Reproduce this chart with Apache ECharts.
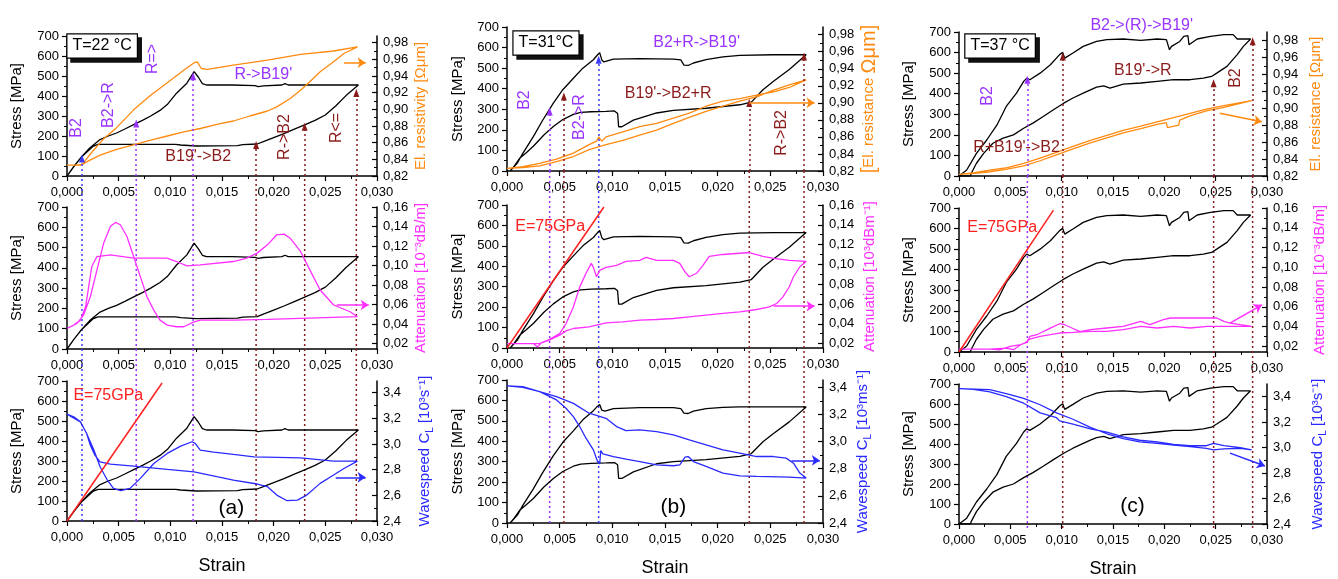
<!DOCTYPE html>
<html><head><meta charset="utf-8">
<script src="https://cdn.jsdelivr.net/npm/echarts@6/dist/echarts.min.js"></script>
<style>html,body{margin:0;padding:0;background:#fff}#c{width:1338px;height:579px}</style>
</head><body><div id="c"></div>
<script>
// ---------------- DATA ----------------
// Column (a) T=22 °C
const stressLoadA = [[0,0],[0.0007,50],[0.0014,95],[0.0022,140],[0.0032,182],[0.004,200],[0.0048,215],[0.0056,235],[0.0065,258],[0.0073,278],[0.0081,300],[0.009,328],[0.0097,357],[0.0106,414],[0.0116,464],[0.0123,522],[0.0127,495],[0.0131,462],[0.0135,455],[0.016,455],[0.0182,452],[0.0185,447],[0.019,451],[0.0208,455],[0.0211,462],[0.0214,455],[0.0282,455]];
const stressUnloadA = [[0.0282,455],[0.027,402],[0.026,350],[0.025,305],[0.024,278],[0.023,256],[0.022,234],[0.021,212],[0.020,192],[0.019,172],[0.0184,160],[0.017,157],[0.0165,152],[0.0125,150],[0.011,155],[0.0105,158],[0.003,158],[0.0025,148],[0.0014,95],[0.0007,50],[0,0]];
const resLoadA = [[0,0.833],[0.0013,0.833],[0.0016,0.836],[0.0025,0.850],[0.0035,0.864],[0.0048,0.878],[0.0065,0.900],[0.0081,0.917],[0.0097,0.932],[0.0113,0.947],[0.0123,0.956],[0.0126,0.957],[0.013,0.949],[0.0136,0.948],[0.0161,0.953],[0.0194,0.959],[0.0226,0.966],[0.0258,0.970],[0.0281,0.975]];
const resUnloadA = [[0.0281,0.975],[0.0268,0.967],[0.0258,0.957],[0.0245,0.945],[0.0235,0.933],[0.0226,0.923],[0.0216,0.913],[0.0203,0.903],[0.0194,0.898],[0.0177,0.892],[0.0161,0.886],[0.0145,0.882],[0.0129,0.877],[0.0113,0.873],[0.0097,0.868],[0.0081,0.863],[0.0066,0.858],[0.0048,0.852],[0.0032,0.845],[0.0019,0.837],[0.0015,0.834],[0.0008,0.833],[0,0.833]];
const attLoadA = [[0,0.0354],[0.00097,0.0406],[0.0016,0.0492],[0.00226,0.068],[0.0029,0.0955],[0.00355,0.123],[0.0042,0.140],[0.00468,0.1442],[0.00516,0.1418],[0.0058,0.1298],[0.00645,0.1092],[0.0071,0.0886],[0.00774,0.068],[0.0084,0.0543],[0.009,0.044],[0.0097,0.0389],[0.0106,0.0372],[0.0113,0.0372],[0.0123,0.0423],[0.0129,0.044],[0.0161,0.044],[0.0194,0.0447],[0.0281,0.0475]];
const attUnloadA = [[0.0281,0.0492],[0.0274,0.0526],[0.0258,0.0595],[0.0245,0.0749],[0.0235,0.0955],[0.0226,0.1144],[0.0216,0.128],[0.021,0.1322],[0.0203,0.1315],[0.0194,0.1212],[0.0184,0.1127],[0.0174,0.1075],[0.0161,0.1041],[0.0129,0.1006],[0.0116,0.0996],[0.0106,0.1041],[0.0097,0.1075],[0.00645,0.1075],[0.0042,0.111],[0.0029,0.1092],[0.0024,0.099],[0.0021,0.0783],[0.0018,0.0577],[0.0013,0.044],[0.00065,0.0389],[0,0.0354]];
const waveLoadA = [[0,3.232],[0.00065,3.211],[0.0013,3.172],[0.0019,3.081],[0.0026,2.952],[0.0032,2.822],[0.0039,2.719],[0.0045,2.654],[0.0052,2.636],[0.0061,2.654],[0.0071,2.732],[0.0084,2.848],[0.0097,2.926],[0.011,2.983],[0.0121,3.017],[0.0124,3.004],[0.0129,2.952],[0.0142,2.936],[0.0161,2.918],[0.0181,2.9],[0.0226,2.892],[0.0258,2.866],[0.0281,2.866]];
const waveUnloadA = [[0.0281,2.861],[0.0268,2.809],[0.0258,2.758],[0.0245,2.693],[0.0232,2.602],[0.0223,2.563],[0.0213,2.558],[0.0203,2.602],[0.0194,2.667],[0.0184,2.688],[0.0161,2.719],[0.0145,2.745],[0.0123,2.783],[0.0097,2.802],[0.00645,2.827],[0.0042,2.843],[0.0032,2.861],[0.0027,2.913],[0.00226,2.99],[0.0019,3.081],[0.0013,3.172],[0,3.232]];
const vStrainA = [0.00145,0.0067,0.0122,0.0183,0.023,0.028];
const vTipA = [88,263,499,155,246,415];
const arrowA = [[[0.0268,0.956],[0.0289,0.956]],[[0.0261,0.0595],[0.0292,0.0595]],[[0.026,2.74],[0.0289,2.74]]];

// Column (b) T=31 °C
const stressLoadB = [[0.0003,0],[0.001,40],[0.0015,86],[0.0025,167],[0.0034,248],[0.0044,330],[0.0053,395],[0.0063,451],[0.0072,500],[0.0082,541],[0.0086,565],[0.0088,575],[0.009,540],[0.0092,530],[0.0101,544],[0.0126,546],[0.0158,544],[0.0165,540],[0.0168,515],[0.0172,513],[0.0177,525],[0.0189,541],[0.0205,555],[0.0221,562],[0.0253,565],[0.0284,565]];
const stressUnloadB = [[0.0284,565],[0.0268,493],[0.0253,436],[0.0243,395],[0.0232,335],[0.0221,322],[0.0189,305],[0.0158,295],[0.0142,282],[0.012,247],[0.0109,215],[0.0106,215],[0.0105,280],[0.0102,292],[0.0094,290],[0.008,288],[0.007,285],[0.0063,275],[0.0053,250],[0.0044,216],[0.0035,175],[0.0025,120],[0.0018,88],[0.0012,62],[0.0007,25],[0.0003,0]];
// wavespeed-test stress loop (bottom row of b) sits a little higher
const stressLoadB3 = [[0.0003,0],[0.001,40],[0.0015,86],[0.0025,167],[0.0034,248],[0.0044,330],[0.0053,395],[0.0063,451],[0.0072,505],[0.0082,550],[0.0086,572],[0.0088,580],[0.009,552],[0.0093,548],[0.0101,560],[0.0126,565],[0.0158,565],[0.0165,560],[0.0168,538],[0.0172,536],[0.0177,548],[0.0189,560],[0.0205,566],[0.0221,568],[0.0253,568],[0.0284,568]];
const stressUnloadB3 = [[0.0284,568],[0.0268,495],[0.0253,438],[0.0243,398],[0.0232,340],[0.0221,326],[0.0189,310],[0.0158,300],[0.0142,290],[0.012,250],[0.0109,218],[0.0106,218],[0.0105,285],[0.0102,296],[0.0094,294],[0.008,292],[0.007,288],[0.0063,278],[0.0053,252],[0.0044,218],[0.0035,176],[0.0025,120],[0.0018,88],[0.0012,62],[0.0007,25],[0.0003,0]];
const resLoadB = [[0,0.823],[0.0015,0.825],[0.0031,0.829],[0.0047,0.834],[0.0063,0.841],[0.0078,0.851],[0.0085,0.855],[0.0087,0.860],[0.009,0.855],[0.0094,0.860],[0.011,0.866],[0.0126,0.872],[0.0142,0.876],[0.0158,0.882],[0.0173,0.888],[0.0189,0.896],[0.0205,0.902],[0.0221,0.905],[0.0237,0.909],[0.0253,0.913],[0.0268,0.918],[0.0284,0.927]];
const resUnloadB = [[0.0284,0.925],[0.0268,0.921],[0.0253,0.915],[0.0237,0.907],[0.0221,0.902],[0.0205,0.896],[0.0189,0.890],[0.0173,0.883],[0.0158,0.876],[0.0142,0.868],[0.0126,0.862],[0.011,0.856],[0.0094,0.851],[0.0078,0.845],[0.0063,0.837],[0.0047,0.831],[0.0031,0.826],[0.0015,0.824],[0,0.823]];
const attLoadB = [[0,0.02],[0.0015,0.02],[0.0025,0.02],[0.0029,0.0166],[0.0033,0.021],[0.004,0.024],[0.005,0.030],[0.0056,0.040],[0.0063,0.057],[0.0069,0.077],[0.0075,0.091],[0.008,0.101],[0.0082,0.097],[0.0085,0.0875],[0.0088,0.094],[0.0094,0.097],[0.0104,0.099],[0.0113,0.103],[0.0126,0.104],[0.0132,0.107],[0.0142,0.104],[0.0158,0.104],[0.0164,0.101],[0.0169,0.0925],[0.0173,0.0875],[0.018,0.091],[0.0186,0.099],[0.0192,0.108],[0.0205,0.110],[0.023,0.112],[0.0243,0.108],[0.0253,0.106],[0.0268,0.104],[0.0284,0.103]];
const attUnloadB = [[0.0284,0.103],[0.0278,0.0976],[0.0272,0.0875],[0.0268,0.0774],[0.0262,0.0672],[0.0256,0.0605],[0.0249,0.0571],[0.0237,0.0544],[0.0221,0.052],[0.0205,0.0504],[0.0189,0.0487],[0.0173,0.047],[0.0158,0.0453],[0.0142,0.0443],[0.0126,0.0436],[0.011,0.0419],[0.0094,0.0409],[0.0078,0.0369],[0.0063,0.0352],[0.0056,0.0328],[0.005,0.0284],[0.004,0.0234],[0.0031,0.02],[0,0.02]];
const waveLoadB = [[0,3.41],[0.0015,3.40],[0.0031,3.368],[0.0047,3.307],[0.0056,3.246],[0.0063,3.184],[0.0069,3.111],[0.0075,3.025],[0.0082,2.939],[0.0086,2.853],[0.0088,2.836],[0.0089,2.934],[0.0091,2.91],[0.0101,2.89],[0.0113,2.871],[0.0126,2.853],[0.0142,2.829],[0.0158,2.822],[0.0164,2.829],[0.0169,2.885],[0.0172,2.89],[0.0177,2.853],[0.0189,2.817],[0.0205,2.768],[0.0221,2.748],[0.0237,2.743],[0.0268,2.738],[0.0284,2.731]];
const waveUnloadB = [[0.0284,2.731],[0.0278,2.768],[0.0272,2.841],[0.0265,2.878],[0.0253,2.89],[0.0237,2.89],[0.0221,2.915],[0.0205,2.939],[0.0189,2.976],[0.0173,3.013],[0.0158,3.05],[0.0142,3.074],[0.0126,3.086],[0.0113,3.081],[0.0104,3.111],[0.0094,3.172],[0.0078,3.209],[0.0063,3.282],[0.0047,3.331],[0.0031,3.368],[0.0015,3.405],[0,3.41]];
const vStrainB = [0.00405,0.0054,0.0087,0.023,0.0282];
const vTipB = [289,362,541,330,557];
const arrowB = [[[0.023,0.900],[0.0292,0.900]],[[0.0253,0.0578],[0.0292,0.0578]],[[0.027,2.861],[0.0297,2.861]]];

// Column (c) T=37 °C
const stressLoadC = [[0,0],[0.00075,29],[0.0017,110],[0.0027,175],[0.0037,248],[0.0046,338],[0.0056,403],[0.0063,460],[0.0066,476],[0.0069,468],[0.0079,500],[0.0089,541],[0.0098,590],[0.0101,601],[0.0103,573],[0.0111,598],[0.0121,630],[0.0134,654],[0.0144,663],[0.016,666],[0.0177,659],[0.0193,666],[0.0202,663],[0.0205,614],[0.0207,630],[0.0215,654],[0.0219,679],[0.0223,682],[0.0224,638],[0.0232,666],[0.0245,679],[0.0258,687],[0.0267,687],[0.0271,666],[0.0284,666]];
const stressUnloadC = [[0.0284,666],[0.0277,630],[0.0271,590],[0.0261,533],[0.0251,500],[0.0246,484],[0.0238,476],[0.0225,468],[0.0209,468],[0.0193,460],[0.0177,452],[0.016,447],[0.0147,427],[0.0141,438],[0.0134,432],[0.0128,419],[0.0121,403],[0.0111,379],[0.0102,354],[0.0092,322],[0.0082,289],[0.0072,257],[0.0063,232],[0.0053,200],[0.0043,184],[0.0033,159],[0.0024,110],[0.0017,62],[0.0012,13],[0.0011,0],[0,0]];
const resLoadC = [[0,0.822],[0.0015,0.824],[0.003,0.827],[0.0047,0.830],[0.0063,0.835],[0.0079,0.841],[0.0095,0.848],[0.0111,0.855],[0.0128,0.862],[0.0144,0.868],[0.016,0.874],[0.0177,0.879],[0.0193,0.884],[0.0209,0.889],[0.0225,0.894],[0.0241,0.899],[0.0258,0.903],[0.0285,0.909]];
const resUnloadC = [[0.0285,0.909],[0.0258,0.901],[0.0241,0.897],[0.0225,0.891],[0.0215,0.886],[0.0214,0.880],[0.0203,0.877],[0.0202,0.883],[0.0193,0.881],[0.0177,0.876],[0.016,0.871],[0.0144,0.865],[0.0128,0.859],[0.0111,0.852],[0.0095,0.845],[0.0079,0.838],[0.0063,0.832],[0.0047,0.828],[0.003,0.825],[0.0015,0.823],[0,0.822]];
const attLoadC = [[0,0.0173],[0.003,0.0173],[0.004,0.0166],[0.005,0.02],[0.006,0.0217],[0.0066,0.024],[0.0069,0.030],[0.0076,0.0318],[0.0082,0.035],[0.0092,0.040],[0.0098,0.0429],[0.0103,0.0419],[0.011,0.0386],[0.0118,0.035],[0.0128,0.0369],[0.0144,0.0386],[0.016,0.0402],[0.0177,0.0453],[0.0186,0.0419],[0.0199,0.047],[0.0206,0.0487],[0.0251,0.0487],[0.0258,0.0453],[0.0264,0.0436],[0.0274,0.0419],[0.0285,0.0402]];
const attUnloadC = [[0.0285,0.0402],[0.0258,0.0402],[0.0242,0.0402],[0.0225,0.0386],[0.0209,0.0402],[0.0193,0.0386],[0.0177,0.0402],[0.016,0.0369],[0.0144,0.0352],[0.0128,0.0352],[0.0111,0.0342],[0.0098,0.0335],[0.0089,0.0318],[0.0079,0.0301],[0.0069,0.0274],[0.0064,0.0234],[0.006,0.0217],[0.0053,0.0166],[0.0046,0.0183],[0.003,0.0173],[0,0.0173]];
const waveLoadC = [[0,3.463],[0.003,3.456],[0.0046,3.425],[0.0063,3.387],[0.0079,3.337],[0.0095,3.273],[0.0111,3.223],[0.0128,3.159],[0.0144,3.109],[0.016,3.071],[0.0176,3.046],[0.0193,3.033],[0.0209,3.02],[0.0225,3.008],[0.0241,2.995],[0.0248,2.982],[0.0258,2.99],[0.0274,2.995],[0.0285,2.982]];
const waveUnloadC = [[0.0285,2.982],[0.0274,3.0],[0.0258,3.015],[0.0248,3.033],[0.0241,3.015],[0.0225,3.015],[0.0209,3.025],[0.0193,3.046],[0.0176,3.058],[0.016,3.084],[0.0144,3.122],[0.0128,3.147],[0.0111,3.185],[0.0098,3.21],[0.0095,3.235],[0.0079,3.273],[0.0063,3.349],[0.0046,3.4],[0.003,3.438],[0.0014,3.458],[0,3.463]];
const vStrainC = [0.00666,0.0101,0.0248,0.0286];
const vTipC = [468,581,451,655];
const arrowC = [[[0.0254,0.894],[0.0295,0.884]],[[0.0264,0.0436],[0.0295,0.062]],[[0.0264,2.957],[0.0298,2.856]]];

// E = 75 GPa guide line (read endpoints)
const eLine = [[0,0],[0.0092,690]];

// tick labels of the right axes
const resTicks = [0.82,0.84,0.86,0.88,0.90,0.92,0.94,0.96,0.98];
const resMinor = [0.83,0.85,0.87,0.89,0.91,0.93,0.95,0.97];
const attTicks = [0.02,0.04,0.06,0.08,0.10,0.12,0.14,0.16];
const attMinor = [0.03,0.05,0.07,0.09,0.11,0.13,0.15];
const waveTicks = [2.4,2.6,2.8,3.0,3.2,3.4];
const waveMinor = [2.5,2.7,2.9,3.1,3.3];

// text annotations [text, strain, stress]
const annotTopA = [["B2",0.00097,240],["B2->R",0.004,355],["R=>",0.0083,585],["R->B19'",0.019,505],["B19'->B2",0.0127,95],["R->B2",0.0211,195],["R<=",0.0261,240]];
const annotTopB = [["B2",0.0017,345],["B2->R",0.0069,262],["B2+R->B19'",0.018,622],["B19'->B2+R",0.0153,374],["R->B2",0.0261,185]];
const annotTopC = [["B2->(R)->B19'",0.0178,729],["B2",0.0028,389],["B19'->R",0.0179,510],["B2",0.0269,476],["R+B19'->B2",0.0056,136]];
const boxes = [["T=22 °C",0.0034,650],["T=31°C",0.0037,622],["T=37 °C",0.004,632]];
const eLabels = [["E=75GPa",0.004,625],["E=75GPa",0.0041,592],["E=75GPa",0.0042,603]];
const panelLabels = [["(a)",0.0159,65],["(b)",0.0158,78],["(c)",0.0169,87]];

// ---------------- STYLE / LAYOUT ----------------
const FONT = '"Liberation Sans", Arial, Helvetica, sans-serif';
const ORANGE='#ff8a10', MAGENTA='#ff30ff', BLUE='#2a2aff', RED='#ff2020', PURPLE='#9933ff', DRED='#8b1a1a', VBLUE='#3c3cff';
const SECCOL = [ORANGE, MAGENTA, BLUE];
const majorTicks = [resTicks, attTicks, waveTicks];
const minorTicks = [resMinor, attMinor, waveMinor];
const RICH = {
  o:{color:ORANGE,fontSize:15,fontFamily:FONT},
  ob:{color:ORANGE,fontSize:20,fontFamily:FONT},
  m:{color:MAGENTA,fontSize:15,fontFamily:FONT},
  b:{color:BLUE,fontSize:15,fontFamily:FONT,lineHeight:20,verticalAlign:'middle'},
  bs:{color:BLUE,fontSize:10,fontFamily:FONT,lineHeight:10,verticalAlign:'bottom'}
};
const cols = [
  {left:67,width:310,rows:[[36,140],[207,142],[381,140]],rr:[[0.82,0.988],[0.0144,0.16],[2.4,3.49]],lgap:43,rgap:[36,36,38],
   stress:[[stressLoadA,stressUnloadA],[stressLoadA,stressUnloadA],[stressLoadA,stressUnloadA]],
   sec:[[resLoadA,resUnloadA],[attLoadA,attUnloadA],[waveLoadA,waveUnloadA]],
   vx:vStrainA,vtip:vTipA,vcol:[VBLUE,PURPLE,PURPLE,DRED,DRED,DRED],arrows:arrowA,eRow:2,
   annot:annotTopA,acol:[PURPLE,PURPLE,PURPLE,PURPLE,DRED,DRED,DRED],arot:[90,90,90,0,0,90,90],
   names:['{o|El. resistivity [Ωμm]}','{m|Attenuation [10⁻³dB/m]}','{b|Wavespeed C}{bs|L}{b| [10³s⁻¹]}']},
  {left:507,width:316,rows:[[27,144],[205,143],[380,143]],rr:[[0.82,0.989],[0.0155,0.16],[2.4,3.454]],lgap:42,rgap:[36,39,30],
   stress:[[stressLoadB,stressUnloadB],[stressLoadB,stressUnloadB],[stressLoadB3,stressUnloadB3]],
   sec:[[resLoadB,resUnloadB],[attLoadB,attUnloadB],[waveLoadB,waveUnloadB]],
   vx:vStrainB,vtip:vTipB,vcol:[PURPLE,DRED,VBLUE,DRED,DRED],arrows:arrowB,eRow:1,
   annot:annotTopB,acol:[PURPLE,PURPLE,PURPLE,DRED,DRED],arot:[90,90,0,0,90],
   names:['{ob|[}{o|El. resistance }{ob|Ωμm]}','{m|Attenuation [10³dBm⁻¹]}','{b|Wavespeed C}{bs|L}{b| [10³ms⁻¹]}']},
  {left:959,width:308,rows:[[32,144],[208,144],[384,144]],rr:[[0.82,0.990],[0.0143,0.16],[2.4,3.5]],lgap:43,rgap:[41,45,41],
   stress:[[stressLoadC,stressUnloadC],[stressLoadC,stressUnloadC],[stressLoadC,stressUnloadC]],
   sec:[[resLoadC,resUnloadC],[attLoadC,attUnloadC],[waveLoadC,waveUnloadC]],
   vx:vStrainC,vtip:vTipC,vcol:[PURPLE,DRED,DRED,DRED],arrows:arrowC,eRow:1,
   annot:annotTopC,acol:[PURPLE,PURPLE,DRED,DRED,DRED],arot:[0,90,0,90,0],
   names:['{o|El. resistance [Ωμm]}','{m|Attenuation [10⁻³dB/m]}','{b|Wavespeed C}{bs|L}{b| [10³s⁻¹]}']}
];
const fmt = d => v => (+v).toFixed(d).replace('.', ',');
const option = {animation:false, backgroundColor:'#fff', textStyle:{fontFamily:FONT}, grid:[], xAxis:[], yAxis:[], series:[]};
const tickStyle = {color:'#000', width:1.2};

function textItem(t, x, y, color, rot, size){
  return {value:[x,y], label:{show:true, position:'inside', formatter:t, color:color, fontSize:size||16, fontFamily:FONT, rotate:rot||0}};
}
function textSeries(xi, yi, items, z){
  return {type:'scatter', xAxisIndex:xi, yAxisIndex:yi, data:items, symbol:'circle', symbolSize:1,
    itemStyle:{color:'rgba(0,0,0,0)', opacity:1}, emphasis:{disabled:true}, clip:false, z:z, silent:true};
}

cols.forEach((c, ci) => {
  for (let r = 0; r < 3; r++) {
    const [top, h] = c.rows[r];
    const gi = option.grid.length;
    option.grid.push({left:c.left, top:top, width:c.width, height:h});
    const xi = option.xAxis.length;
    option.xAxis.push({type:'value', gridIndex:gi, min:0, max:0.03, interval:0.005, position:'bottom',
      axisLine:{onZero:false, lineStyle:{color:'#000', width:1.5}},
      axisTick:{show:true, inside:false, length:5, lineStyle:tickStyle},
      minorTick:{show:true, splitNumber:2, length:3, lineStyle:{color:'#000', width:1}},
      splitLine:{show:false}, minorSplitLine:{show:false},
      axisLabel:{formatter:fmt(3), color:'#000', fontSize:13, fontFamily:FONT, margin:10},
      name: r === 2 ? 'Strain' : '', nameLocation:'middle', nameGap:36,
      nameTextStyle:{color:'#000', fontSize:18, fontFamily:FONT}});
    const yl = option.yAxis.length;
    option.yAxis.push({type:'value', gridIndex:gi, min:0, max:700, interval:100, position:'left',
      axisLine:{show:true, onZero:false, lineStyle:{color:'#000', width:1.5}},
      axisTick:{show:true, inside:false, length:5, lineStyle:tickStyle},
      minorTick:{show:true, splitNumber:2, length:3, lineStyle:{color:'#000', width:1}},
      splitLine:{show:false}, minorSplitLine:{show:false},
      axisLabel:{color:'#000', fontSize:13, fontFamily:FONT, margin:8},
      name:'Stress [MPa]', nameLocation:'middle', nameRotate:90, nameGap:c.lgap,
      nameTextStyle:{color:'#000', fontSize:15, fontFamily:FONT}});
    const yr = option.yAxis.length;
    option.yAxis.push({type:'value', gridIndex:gi, min:c.rr[r][0], max:c.rr[r][1], position:'right',
      axisLine:{show:true, onZero:false, lineStyle:{color:'#000', width:1.5}},
      axisTick:{show:true, inside:true, length:5, customValues:majorTicks[r], lineStyle:tickStyle},
      axisLabel:{customValues:majorTicks[r], formatter:fmt(r === 2 ? 1 : 2), color:'#000', fontSize:13, fontFamily:FONT, margin:6},
      splitLine:{show:false},
      name:c.names[r], nameLocation:'middle', nameRotate:90, nameGap:c.rgap[r],
      nameTextStyle:{rich:RICH, fontFamily:FONT}});
    option.yAxis.push({type:'value', gridIndex:gi, min:c.rr[r][0], max:c.rr[r][1], position:'right',
      axisLine:{show:false, onZero:false}, axisLabel:{show:false}, splitLine:{show:false},
      axisTick:{show:true, inside:true, length:3, customValues:minorTicks[r], lineStyle:{color:'#000', width:1}}});

    // stress loop
    const sl = c.stress[r];
    const stressSeries = {type:'line', xAxisIndex:xi, yAxisIndex:yl, data:sl[0].concat(sl[1]),
      showSymbol:false, symbol:'none', lineStyle:{color:'#000', width:1.3}, z:3, silent:true};
    if (r === 0) {
      stressSeries.markLine = {silent:true, symbol:['none','triangle'], symbolSize:[6,8], label:{show:false},
        data: c.vx.map((x, i) => [
          {coord:[x, 0], lineStyle:{color:c.vcol[i], type:[2,3], width:1.5}, itemStyle:{color:c.vcol[i]}},
          {coord:[x, c.vtip[i]]}
        ])};
    }
    option.series.push(stressSeries);

    // secondary loop
    option.series.push({type:'line', xAxisIndex:xi, yAxisIndex:yr, data:c.sec[r][0].concat(c.sec[r][1]),
      showSymbol:false, symbol:'none', lineStyle:{color:SECCOL[r], width:1.3}, z:4, silent:true,
      markLine:{silent:true, symbol:['none','arrow'], symbolSize:8, label:{show:false},
        lineStyle:{color:SECCOL[r], type:'solid', width:1.5},
        data:[[{coord:c.arrows[r][0]}, {coord:c.arrows[r][1]}]]}});

    // E = 75 GPa
    if (r === c.eRow) {
      option.series.push({type:'line', xAxisIndex:xi, yAxisIndex:yl, data:eLine, showSymbol:false, symbol:'none',
        lineStyle:{color:RED, width:1.5}, z:5, silent:true});
    }

    // annotations
    const items = [];
    if (r === 0) {
      c.annot.forEach((a, i) => items.push(textItem(a[0], a[1], a[2], c.acol[i], c.arot[i], 16)));
      const b = boxes[ci];
      // shadow box
      option.series.push(textSeries(xi, yl, [{value:[b[1], b[2]], label:{show:true, position:'inside', formatter:b[0],
        color:'#111', fontSize:16, fontFamily:FONT, backgroundColor:'#111', borderColor:'#111', borderWidth:1.2,
        padding:[4,5,3,5], offset:[4,4]}}], 9));
      // white framed box
      option.series.push(textSeries(xi, yl, [{value:[b[1], b[2]], label:{show:true, position:'inside', formatter:b[0],
        color:'#000', fontSize:16, fontFamily:FONT, backgroundColor:'#fff', borderColor:'#000', borderWidth:1.2,
        padding:[4,5,3,5]}}], 11));
    }
    if (r === c.eRow) { const e = eLabels[ci]; items.push(textItem(e[0], e[1], e[2], RED, 0, 16)); }
    if (r === 2) { const p = panelLabels[ci]; items.push(textItem(p[0], p[1], p[2], '#000', 0, 21)); }
    if (items.length) option.series.push(textSeries(xi, yl, items, 10));
  }
  // overlay for vertical dotted lines through middle and bottom rows
  const ot = c.rows[0][0] + c.rows[0][1];
  const ob = c.rows[2][0] + c.rows[2][1];
  const gi = option.grid.length;
  option.grid.push({left:c.left, top:ot, width:c.width, height:ob - ot});
  const xi = option.xAxis.length;
  option.xAxis.push({type:'value', gridIndex:gi, min:0, max:0.03, show:false});
  const yi = option.yAxis.length;
  option.yAxis.push({type:'value', gridIndex:gi, min:0, max:1, show:false});
  c.vx.forEach((x, i) => {
    option.series.push({type:'line', xAxisIndex:xi, yAxisIndex:yi, data:[[x,0],[x,1]], showSymbol:false, symbol:'none',
      lineStyle:{color:c.vcol[i], type:[2,3], width:1.5}, z:1, silent:true});
  });
});

const chart = echarts.init(document.getElementById('c'), null, {renderer:'canvas'});
chart.setOption(option);
</script></body></html>
